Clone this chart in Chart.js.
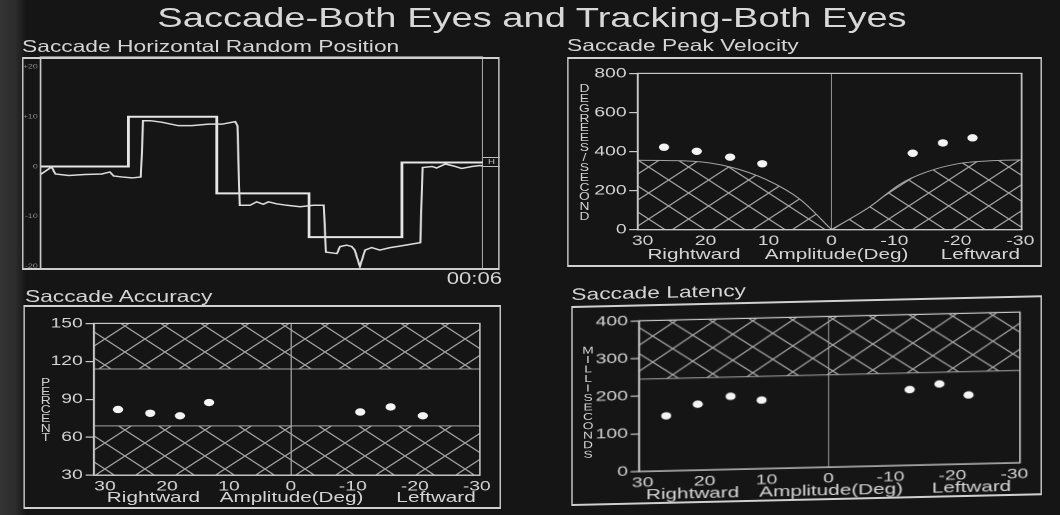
<!DOCTYPE html>
<html>
<head>
<meta charset="utf-8">
<title>Saccade-Both Eyes and Tracking-Both Eyes</title>
<script src="https://cdn.jsdelivr.net/npm/chart.js@4.4.1/dist/chart.umd.min.js"></script>
<style>
  html, body { margin:0; padding:0; width:1060px; height:515px; overflow:hidden; background:#151515; }
  #edge { position:absolute; left:0; top:0; width:26px; height:515px;
          background:linear-gradient(to right,#343434 0,#2d2d2d 15px,rgba(21,21,21,0) 26px); }
  #stage { position:absolute; left:0; top:0; width:768px; height:515px;
           transform:scaleX(1.38); transform-origin:0 0;
           font-family:"Liberation Sans", Arial, sans-serif; color:#d4d4d4; }
  .t { position:absolute; white-space:nowrap; line-height:1; }
  .box { position:absolute; box-sizing:border-box; border:solid #d0d0d0; border-width:2px 1.6px; }
  .ptitle { font-size:16.5px; }
  .sub { font-size:15px; transform:translateX(-50%); }
  .vlab { position:absolute; writing-mode:vertical-lr; text-orientation:upright;
          font-size:10px; line-height:10px; width:10px; color:#d0d0d0; white-space:nowrap; }
  canvas { position:absolute; }
  #p4 { position:absolute; left:413.8px; top:0; width:360px; height:515px;
        transform:skewY(-1.82deg); transform-origin:0 0; }
  #hcell { position:absolute; left:350px; top:156.7px; width:12.3px; height:10px; box-sizing:border-box;
           border-top:1px solid #bdbdbd; border-bottom:1px solid #bdbdbd;
           font-size:7px; line-height:8px; text-align:center; color:#bdbdbd; }
</style>
</head>
<body>
<div id="edge"></div>
<div id="stage">
  <div class="t" style="left:385.5px;top:3.6px;font-size:27.6px;transform:translateX(-50%);color:#d8d8d8">Saccade-Both Eyes and Tracking-Both Eyes</div>

  <!-- horizontal random position -->
  <div class="t ptitle" style="left:16px;top:38px">Saccade Horizontal Random Position</div>
  <div class="box" style="left:15.9px;top:57px;width:346.4px;height:213px"></div>
  <canvas id="c1"></canvas>
  <div id="hcell">H</div>
  <div class="t" style="left:300px;width:63.8px;top:270.5px;font-size:16px;text-align:right">00:06</div>

  <!-- peak velocity -->
  <div class="t ptitle" style="left:410.9px;top:37px">Saccade Peak Velocity</div>
  <div class="box" style="left:410.9px;top:57px;width:344.1px;height:210px"></div>
  <div class="vlab" style="left:418px;top:83px;letter-spacing:-1.15px">DEGREES/SECOND</div>
  <canvas id="c2"></canvas>
  <div class="t sub" style="left:502.9px;top:246.3px">Rightward</div>
  <div class="t sub" style="left:606.2px;top:246.3px">Amplitude(Deg)</div>
  <div class="t sub" style="left:710.4px;top:246.3px">Leftward</div>

  <!-- accuracy -->
  <div class="t ptitle" style="left:18.1px;top:288px">Saccade Accuracy</div>
  <div class="box" style="left:16.7px;top:305px;width:346.3px;height:204px"></div>
  <div class="vlab" style="left:27.6px;top:377px;letter-spacing:-1.9px">PERCENT</div>
  <canvas id="c3"></canvas>
  <div class="t sub" style="left:111.2px;top:489.3px">Rightward</div>
  <div class="t sub" style="left:211.3px;top:489.3px">Amplitude(Deg)</div>
  <div class="t sub" style="left:316px;top:489.3px">Leftward</div>

  <!-- latency -->
  <div id="p4">
    <div class="t ptitle" style="left:0px;top:286px">Saccade Latency</div>
    <div class="box" style="left:0px;top:305.8px;width:341.2px;height:200.2px"></div>
    <div class="vlab" style="left:6.6px;top:345.4px;letter-spacing:-1.55px">MILLISECONDS</div>
    <canvas id="c4"></canvas>
    <div class="t sub" style="left:87.9px;top:488px">Rightward</div>
    <div class="t sub" style="left:188.3px;top:488px">Amplitude(Deg)</div>
    <div class="t sub" style="left:290px;top:488px">Leftward</div>
  </div>
</div>

<script>
// ---- horizontal random position: time (s) vs position (deg) ----
const targetTime = [0, 1.19, 2.39, 3.64, 4.90, 6.0];
const targetDeg  = [0, 10, -5.4, -14.2, 0.8, 0.8];
const eyeTime = [0, 0.15, 0.20, 0.38, 0.60, 0.83, 0.94, 0.99, 1.10, 1.24, 1.36,
                 1.39, 1.49, 1.64, 1.87, 2.05, 2.28, 2.46, 2.64, 2.67,
                 2.70, 2.84, 2.93, 3.02, 3.09, 3.20, 3.34, 3.52, 3.70, 3.84,
                 3.87, 4.02, 4.06, 4.15, 4.22, 4.26, 4.33, 4.40, 4.49, 4.60, 4.74, 4.87, 5.03, 5.15,
                 5.18, 5.31, 5.37, 5.49, 5.60, 5.71, 5.85, 5.96, 6.0];
const eyeDeg  = [-1.6, -0.1, -1.5, -1.8, -1.6, -1.5, -1.1, -1.9, -2.1, -2.3, -2.1,
                 9.2, 9.2, 8.9, 8.2, 8.2, 8.5, 8.5, 9.0, 8.2,
                 -7.8, -7.8, -7.1, -7.6, -7.1, -7.5, -7.8, -8.1, -7.8, -7.8,
                 -17.2, -17.5, -16.1, -15.8, -16.1, -16.8, -20.1, -16.8, -16.3, -16.8, -16.3, -16.0, -15.6, -15.3,
                 -0.2, 0.0, -0.3, 0.5, 0.1, -0.4, 0.0, 0.2, 0.1];
const posTicks = [20, 10, 0, -10, -20];
const posTickLabels = ['+20', '+10', '0', '-10', '-20'];

// ---- amplitude axis shared by the three summary plots ----
const ampTicks = [30, 20, 10, 0, -10, -20, -30];

// ---- peak velocity (deg/s) ----
const velAmp  = [26.6, 21.4, 16.1, 11.0, -12.9, -17.7, -22.4];
const velPeak = [422, 401, 371, 337, 391, 444, 470];
const velLimitRightAmp = [30.8, 22, 16, 10.5, 5, 0];
const velLimitRight    = [355, 350, 320, 258, 155, 0];
const velLimitLeftAmp  = [0, -6, -11, -15, -20, -25, -30.2];
const velLimitLeft     = [0, 115, 235, 294, 337, 352, 357];

// ---- accuracy (%) ----
const accAmp = [27.9, 22.7, 17.9, 13.2, -11.2, -16.1, -21.3];
const accPct = [82, 79, 77, 87.5, 80, 84, 77];
const accNormal = [69, 114];

// ---- latency (ms) ----
const latAmp = [26.2, 21.1, 15.8, 10.8, -13.1, -17.9, -22.6];
const latMs  = [146, 175, 194, 182, 201, 214, 183];
const latLimit = 245;

const FG = '#d6d6d6', LINE = '#c8c8c8', HATCH = '#a4a4a4', DOT = '#f4f4f4';
Chart.defaults.font.family = '"Liberation Sans", Arial, sans-serif';
Chart.defaults.color = FG;

const plotFrame = {
  id: 'plotFrame',
  afterDatasetsDraw(chart) {
    const { ctx, chartArea: a } = chart;
    ctx.save();
    ctx.strokeStyle = LINE;
    ctx.lineWidth = 1.2;
    ctx.strokeRect(a.left, a.top, a.right - a.left, a.bottom - a.top);
    ctx.restore();
  }
};

function hatchPattern(canvas, w, h, color) {
  const k = 2;
  const tile = document.createElement('canvas');
  tile.width = w * k; tile.height = h * k;
  const g = tile.getContext('2d');
  g.strokeStyle = color; g.lineWidth = 1.1 * k;
  g.beginPath();
  for (let i = -1; i <= 1; i++) {
    g.moveTo((i - 1) * w * k, -h * k); g.lineTo((i + 2) * w * k, 2 * h * k);
    g.moveTo((i + 2) * w * k, -h * k); g.lineTo((i - 1) * w * k, 2 * h * k);
  }
  g.stroke();
  const p = canvas.getContext('2d').createPattern(tile, 'repeat');
  p.setTransform(new DOMMatrix([1 / k, 0, 0, 1 / k, 0, 0]));
  return p;
}

function setup(id, L, T, R, B, pl, pt, pr, pb) {
  const c = document.getElementById(id);
  const left = L - pl, top = T - pt;
  const w = Math.round(R + pr - left), h = Math.round(B + pb - top);
  c.style.left = left + 'px'; c.style.top = top + 'px';
  c.width = w; c.height = h;
  return { c, yw: pl, padTop: pt, padRight: w - (R - left), xh: h - (B - top) };
}

function ampAxis(min, max, xh) {
  return {
    type: 'linear', reverse: true, min, max,
    afterBuildTicks: s => { s.ticks = ampTicks.map(v => ({ value: v })); },
    ticks: { font: { size: 14 }, color: FG, padding: 3, maxRotation: 0, autoSkip: false,
             callback: v => String(v) },
    grid: { drawTicks: false, lineWidth: 1,
            color: c => (c.tick && c.tick.value === 0) ? '#8c8c8c' : 'rgba(0,0,0,0)' },
    border: { display: true, color: LINE, width: 1.3 },
    afterFit: s => { s.height = xh; }
  };
}

function valAxis(min, max, step, yw) {
  return {
    type: 'linear', min, max,
    ticks: { stepSize: step, font: { size: 14 }, color: FG, padding: 2 },
    grid: { drawOnChartArea: false, drawTicks: true, tickLength: 6, color: LINE, lineWidth: 1.2 },
    border: { display: true, color: LINE, width: 1.3 },
    afterFit: s => { s.width = yw; }
  };
}

const pairs = (xs, ys) => xs.map((x, i) => ({ x, y: ys[i] }));
const baseOpts = (g) => ({
  responsive: false, devicePixelRatio: 2, animation: false, events: [],
  layout: { padding: { top: g.padTop, right: g.padRight, left: 0, bottom: 0 } },
  plugins: { legend: { display: false }, tooltip: { enabled: false } }
});
const dots = (xs, ys) => ({ data: pairs(xs, ys), showLine: false, pointRadius: 3.7,
  pointBackgroundColor: DOT, pointBorderWidth: 0 });

// ---- position trace ----
const g1 = setup('c1', 29.3, 57, 350, 269, 13.4, 6, 0, 6);
new Chart(g1.c, {
  type: 'line',
  data: { datasets: [
    { data: pairs(eyeTime, eyeDeg), borderColor: '#dcdcdc', borderWidth: 1.5, pointRadius: 0, tension: 0 },
    { data: pairs(targetTime, targetDeg), stepped: true, borderColor: '#e6e6e6', borderWidth: 2, pointRadius: 0 }
  ]},
  options: Object.assign(baseOpts(g1), {
    layout: { padding: { top: 6, right: 0, left: 0, bottom: 6 } },
    scales: {
      x: { type: 'linear', min: 0, max: 6, display: false },
      y: { type: 'linear', min: -20.6, max: 22,
           afterBuildTicks: s => { s.ticks = posTicks.map(v => ({ value: v })); },
           ticks: { font: { size: 6.5 }, color: '#8d8d8d', padding: 2,
                    callback: (v, i) => posTickLabels[i] },
           grid: { display: false, drawTicks: false }, border: { display: false },
           afterFit: s => { s.width = g1.yw; } }
    }
  }),
  plugins: [plotFrame]
});

// ---- peak velocity ----
const g2 = setup('c2', 462.3, 72.7, 740.6, 229.3, 50, 10, 14, 24);
const pat2 = hatchPattern(g2.c, 29, 26, HATCH);
new Chart(g2.c, {
  type: 'line',
  data: { datasets: [
    dots(velAmp, velPeak),
    { data: pairs(velLimitRightAmp, velLimitRight), borderColor: HATCH, borderWidth: 1, pointRadius: 0,
      fill: 'origin', backgroundColor: pat2, cubicInterpolationMode: 'monotone' },
    { data: pairs(velLimitLeftAmp, velLimitLeft), borderColor: HATCH, borderWidth: 1, pointRadius: 0,
      fill: 'origin', backgroundColor: pat2, cubicInterpolationMode: 'monotone' }
  ]},
  options: Object.assign(baseOpts(g2), {
    scales: { x: ampAxis(-30.2, 30.8, g2.xh), y: valAxis(0, 800, 200, g2.yw) }
  }),
  plugins: [plotFrame]
});

// ---- accuracy ----
const g3 = setup('c3', 68, 322.7, 347.7, 475, 50, 10, 14, 24);
const pat3 = hatchPattern(g3.c, 29, 26, HATCH);
const accMin = -30.5, accMax = 31.8;
new Chart(g3.c, {
  type: 'line',
  data: { datasets: [
    dots(accAmp, accPct),
    { data: [{ x: accMax, y: accNormal[1] }, { x: accMin, y: accNormal[1] }], borderColor: HATCH,
      borderWidth: 1, pointRadius: 0, fill: 'end', backgroundColor: pat3 },
    { data: [{ x: accMax, y: accNormal[0] }, { x: accMin, y: accNormal[0] }], borderColor: HATCH,
      borderWidth: 1, pointRadius: 0, fill: 'start', backgroundColor: pat3 }
  ]},
  options: Object.assign(baseOpts(g3), {
    scales: { x: ampAxis(accMin, accMax, g3.xh), y: valAxis(30, 150, 30, g3.yw) }
  }),
  plugins: [plotFrame]
});

// ---- latency ----
const g4 = setup('c4', 48.5, 322, 324.6, 473, 48, 10, 14, 24);
const pat4 = hatchPattern(g4.c, 29, 26, HATCH);
const latMin = -30.9, latMax = 30.6;
new Chart(g4.c, {
  type: 'line',
  data: { datasets: [
    dots(latAmp, latMs),
    { data: [{ x: latMax, y: latLimit }, { x: latMin, y: latLimit }], borderColor: HATCH,
      borderWidth: 1, pointRadius: 0, fill: 'end', backgroundColor: pat4 }
  ]},
  options: Object.assign(baseOpts(g4), {
    scales: { x: ampAxis(latMin, latMax, g4.xh), y: valAxis(0, 400, 100, g4.yw) }
  }),
  plugins: [plotFrame]
});
</script>
</body>
</html>
